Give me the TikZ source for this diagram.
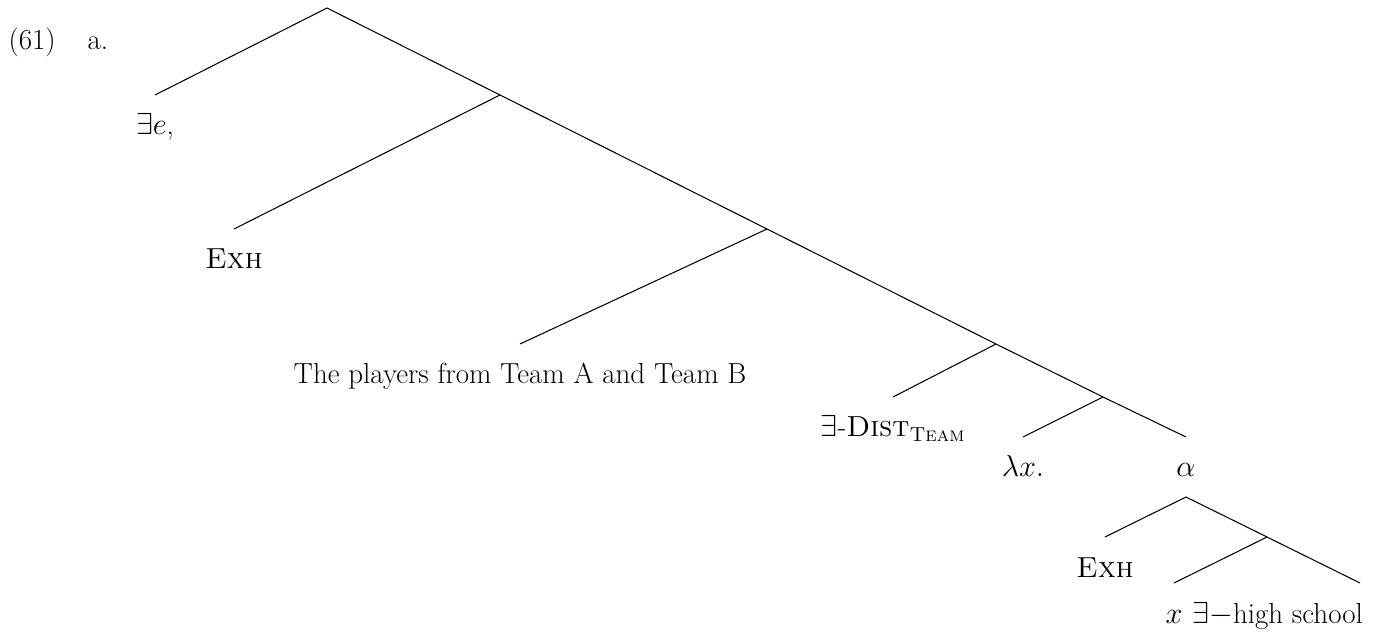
\documentclass[tikz,border=0pt]{standalone}
\usepackage{amsmath, amsfonts}
\usepackage{tikz}
\usetikzlibrary{positioning}
\tikzset{leaf/.style={anchor=base, inner sep=0pt, font=\fontsize{16.5}{19}\selectfont}}

\begin{document}
\begin{tikzpicture}[x=0.02cm, y=-0.02cm, line width=0.6pt]
        \useasboundingbox (0,0) rectangle (1399,632);
        \clip (0,0) rectangle (1399,632);
        \coordinate (R) at (327,8);
        \coordinate (A) at (500,95);
        \coordinate (B) at (767,229);
        \coordinate (C) at (996,344);
        \coordinate (D) at (1103,397);
        \coordinate (F) at (1186,497);
        \coordinate (G) at (1267,537);
        % ends of the branches
        \coordinate (e1) at (155,95);
        \coordinate (e2) at (234,229);
        \coordinate (e3) at (520,344);
        \coordinate (e4) at (893,397);
        \coordinate (e5) at (1023,437);
        \coordinate (e6) at (1186,437);
        \coordinate (e7) at (1105,537);
        \coordinate (e8) at (1174,583);
        \coordinate (e9) at (1360,583);
        \draw (e1) -- (R) -- (A) -- (B) -- (C) -- (D) -- (e6);
        \draw (A) -- (e2);
        \draw (B) -- (e3);
        \draw (C) -- (e4);
        \draw (D) -- (e5);
        \draw (e7) -- (F) -- (G) -- (e9);
        \draw (G) -- (e8);
        \node[leaf, anchor=base west] (num) at (8,49) {(61)};
        \node[leaf, anchor=base west] (sub) at (87,49) {a.};
        \node[leaf, below=0.8cm of e1, anchor=base] (exe) {$\exists e$,};
        \node[leaf, below=0.8cm of e2, anchor=base] (exh) {\textsc{Exh}};
        \node[leaf, below=0.8cm of e3, anchor=base] (dp) {The players from Team A and Team B};
        \node[leaf, below=0.8cm of e4, anchor=base] (dist) {$\exists$-\textsc{Dist}$_{\text{\textsc{Team}}}$};
        \node[leaf, below=0.8cm of e5, anchor=base] (lam) {$\lambda x.$};
        \node[leaf, below=0.8cm of e6, anchor=base] (alpha) {$\alpha$};
        \node[leaf, below=0.8cm of e7, anchor=base] (exhb) {\textsc{Exh}};
        \node[leaf, below=0.8cm of e8, anchor=base] (var) {$x$};
        \node[leaf, below=0.8cm of e9, anchor=base west, xshift=-3.36cm] (hs) {$\exists{-}$high school};
\end{tikzpicture}
\end{document}
